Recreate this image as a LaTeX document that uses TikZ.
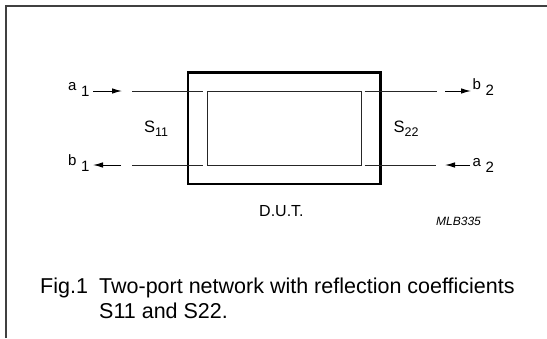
\documentclass[tikz,border=0pt]{standalone}
\usepackage{fontspec}
\setmainfont{Liberation Sans}
\usetikzlibrary{arrows.meta}
\begin{document}
\begin{tikzpicture}[x=1pt,y=-1pt,
  frame/.style={draw=black!75, line width=1.1pt},
  outerbox/.style={draw=black, line width=2.4pt, inner sep=0pt, minimum width=192.5pt, minimum height=111.5pt},
  innerbox/.style={draw=black!85, line width=0.9pt, inner sep=0pt, minimum width=154pt, minimum height=74pt},
  wire/.style={draw=black!85, line width=0.9pt},
  sig/.style={draw=black, line width=1pt, -{Latex[length=10pt,width=5.5pt]}},
  port/.style={inner sep=0pt, anchor=base west, font=\fontsize{15}{15}\selectfont},
  sparam/.style={inner sep=0pt, anchor=base west, font=\fontsize{16.5}{16.5}\selectfont},
  dut/.style={inner sep=0pt, anchor=base west, font=\fontsize{16}{16}\selectfont},
  code/.style={inner sep=0pt, anchor=base west, font=\fontsize{12}{12}\selectfont\itshape},
  caption/.style={inner sep=0pt, anchor=base west, font=\fontsize{21.5}{21.5}\selectfont}
]
\useasboundingbox (0,0) rectangle (547,338);

% frame (cropped: top and left edges only)
\coordinate (fbl) at (6,338);
\coordinate (ftl) at (6,6);
\coordinate (ftr) at (547,6);
\draw[frame] (fbl) -- (ftl) -- (ftr);

% boxes
\node[outerbox] (outer) at (284.25,128.25) {};
\node[innerbox] (inner) at (284,128) {};

% wires
\coordinate (w1a) at (132,91);  \coordinate (w1b) at (203,91);
\coordinate (w2a) at (364.5,91); \coordinate (w2b) at (437,91);
\coordinate (w3a) at (132,165); \coordinate (w3b) at (203,165);
\coordinate (w4a) at (364.5,165); \coordinate (w4b) at (436,165);
\draw[wire] (w1a) -- (w1b);
\draw[wire] (w2a) -- (w2b);
\draw[wire] (w3a) -- (w3b);
\draw[wire] (w4a) -- (w4b);

% signal arrows
\coordinate (a1s) at (93,91);   \coordinate (a1e) at (122,91);
\coordinate (b2s) at (445,91);  \coordinate (b2e) at (471,91);
\coordinate (b1s) at (121,165); \coordinate (b1e) at (93,165);
\coordinate (a2s) at (470,165); \coordinate (a2e) at (445,165);
\draw[sig] (a1s) -- (a1e);
\draw[sig] (b2s) -- (b2e);
\draw[sig] (b1s) -- (b1e);
\draw[sig] (a2s) -- (a2e);

% port labels
\node[port] (la1) at (68,90) {a\hspace{4.5pt}\raisebox{-6pt}{1}};
\node[port] (lb1) at (68,165) {b\hspace{4.5pt}\raisebox{-6pt}{1}};
\node[port] (lb2) at (472.5,89.5) {b\hspace{4.5pt}\raisebox{-6pt}{2}};
\node[port] (la2) at (472.5,166) {a\hspace{4.5pt}\raisebox{-6pt}{2}};

% S-parameters
\node[sparam] (s11) at (144,132) {S\raisebox{-4pt}{\fontsize{12.5}{12.5}\selectfont 11}};
\node[sparam] (s22) at (393.5,132) {S\raisebox{-4pt}{\fontsize{12.5}{12.5}\selectfont 22}};

% labels
\node[dut] (dutlbl) at (259,216) {D.U.T.};
\node[code] (mlb) at (436,225) {MLB335};

% caption
\node[caption] (fig) at (40,293) {Fig.1};
\node[caption] (cap1) at (99,293) {Two-port network with reflection coefficients};
\node[caption] (cap2) at (99,318) {S11 and S22.};
\end{tikzpicture}
\end{document}
